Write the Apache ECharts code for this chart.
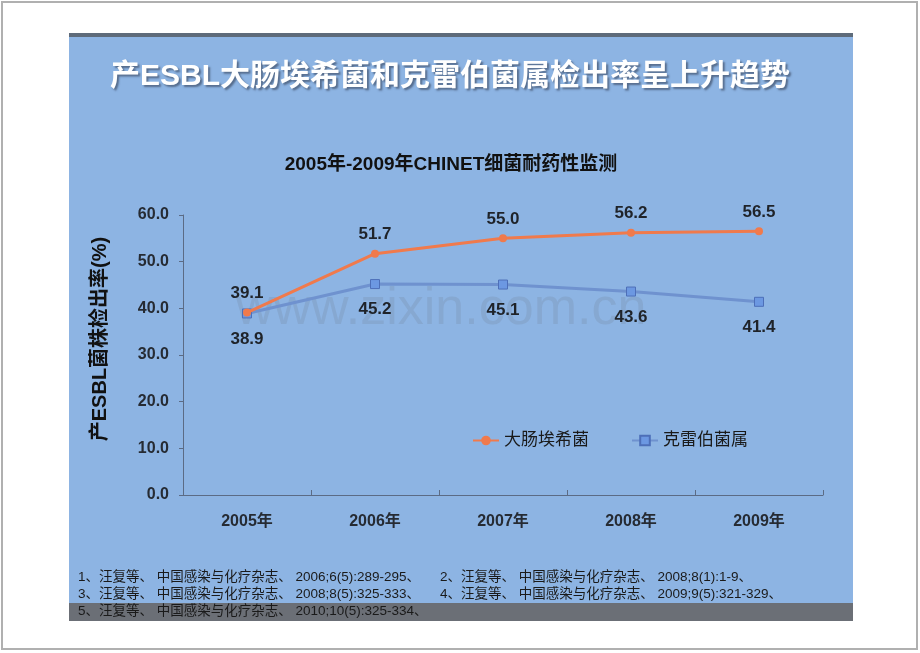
<!DOCTYPE html>
<html><head><meta charset="utf-8">
<script src="https://cdn.jsdelivr.net/npm/echarts@6/dist/echarts.min.js"></script>
<style>html,body{margin:0;padding:0;background:#fff}#c{width:920px;height:653px}</style>
</head><body><div id="c"></div>
<script>
const categories = ['2005年','2006年','2007年','2008年','2009年'];
const ecoli = [39.1, 51.7, 55.0, 56.2, 56.5];
const kleb = [38.9, 45.2, 45.1, 43.6, 41.4];
const seriesNames = ['大肠埃希菌','克雷伯菌属'];
const yTicks = {min:0, max:60, interval:10};
const refs = [
  ['1、汪复等、 中国感染与化疗杂志、 2006;6(5):289-295、', '2、汪复等、 中国感染与化疗杂志、 2008;8(1):1-9、'],
  ['3、汪复等、 中国感染与化疗杂志、 2008;8(5):325-333、', '4、汪复等、 中国感染与化疗杂志、 2009;9(5):321-329、'],
  ['5、汪复等、 中国感染与化疗杂志、 2010;10(5):325-334、', '']
];
const FONT = '"Liberation Sans","Noto Sans CJK SC",sans-serif';
const chart = echarts.init(document.getElementById('c'), null, {renderer:'canvas'});
const refGraphics = [];
refs.forEach((row, i) => {
  row.forEach((t, j) => {
    if (!t) return;
    refGraphics.push({type:'text', left: j === 0 ? 78 : 440, top: 571 + i*17, z: 10,
      style:{text:t, fill:'#1a1a1a', font:'13.5px ' + FONT}});
  });
});
chart.setOption({
  backgroundColor:'#ffffff',
  graphic:[
    {type:'rect', shape:{x:2,y:2,width:915,height:647}, style:{fill:'#ffffff', stroke:'#b0b0b0', lineWidth:2}, z:-10},
    {type:'rect', shape:{x:69,y:33,width:784,height:588}, style:{fill:'#8db4e3'}, z:-9},
    {type:'rect', shape:{x:69,y:33,width:784,height:4}, style:{fill:'#5e6b7a'}, z:-8},
    {type:'rect', shape:{x:69,y:603,width:784,height:18}, style:{fill:'#6b6f76'}, z:-8},
    {type:'text', x:450, y:77, z:10,
      style:{text:'产ESBL大肠埃希菌和克雷伯菌属检出率呈上升趋势', fill:'#ffffff', font:'bold 30px ' + FONT,
        align:'center', verticalAlign:'middle',
        textShadowColor:'rgba(40,50,70,0.55)', textShadowOffsetX:2, textShadowOffsetY:2, textShadowBlur:2}},
    {type:'text', x:451, y:165, z:10,
      style:{text:'2005年-2009年CHINET细菌耐药性监测', fill:'#111111', font:'bold 19px ' + FONT,
        align:'center', verticalAlign:'middle'}},
    {type:'text', x:100, y:339, rotation:Math.PI/2, z:10,
      style:{text:'产ESBL菌株检出率(%)', fill:'#111111', font:'bold 20px ' + FONT,
        align:'center', verticalAlign:'middle'}},
    {type:'text', left:236, top:284, z:1,
      style:{text:'www.zixin.com.cn', fill:'rgba(120,135,160,0.28)', font:'52px ' + FONT}},
    ...refGraphics
  ],
  grid:{left:183, right:97, top:215, bottom:158},
  legend:{
    left:467, top:427, itemGap:42, itemWidth:26, itemHeight:12,
    textStyle:{fontSize:17, color:'#1a1a1a', fontFamily:FONT},
    data:[seriesNames[0], seriesNames[1]]
  },
  xAxis:{
    type:'category', data:categories, boundaryGap:true,
    axisLine:{lineStyle:{color:'#5b6b85', width:1}},
    axisTick:{show:true, inside:true, length:5, lineStyle:{color:'#5b6b85'}},
    axisLabel:{margin:19, fontSize:16, fontWeight:'bold', color:'#262b33', fontFamily:FONT}
  },
  yAxis:{
    type:'value', min:yTicks.min, max:yTicks.max, interval:yTicks.interval,
    splitLine:{show:false},
    axisLine:{show:true, lineStyle:{color:'#5b6b85', width:1}},
    axisTick:{show:true, length:4, lineStyle:{color:'#5b6b85'}},
    axisLabel:{margin:14, fontSize:16, fontWeight:'bold', color:'#262b33', fontFamily:FONT,
      formatter:v => v.toFixed(1)}
  },
  series:[
    {name:seriesNames[0], type:'line', data:ecoli, symbol:'circle', symbolSize:8,
      lineStyle:{color:'#f07a4c', width:3}, itemStyle:{color:'#f07a4c'},
      label:{show:true, position:'top', distance:7, fontSize:17, fontWeight:'bold', color:'#1f2329', fontFamily:FONT,
        formatter:p => p.value.toFixed(1)}, z:3},
    {name:seriesNames[1], type:'line', data:kleb, symbol:'rect', symbolSize:9,
      lineStyle:{color:'#6f92cf', width:3}, itemStyle:{color:'#6c98e2', borderColor:'#4d6fb8', borderWidth:1},
      label:{show:true, position:'bottom', distance:12, fontSize:17, fontWeight:'bold', color:'#1f2329', fontFamily:FONT,
        formatter:p => p.value.toFixed(1)}, z:2}
  ]
});
</script></body></html>
